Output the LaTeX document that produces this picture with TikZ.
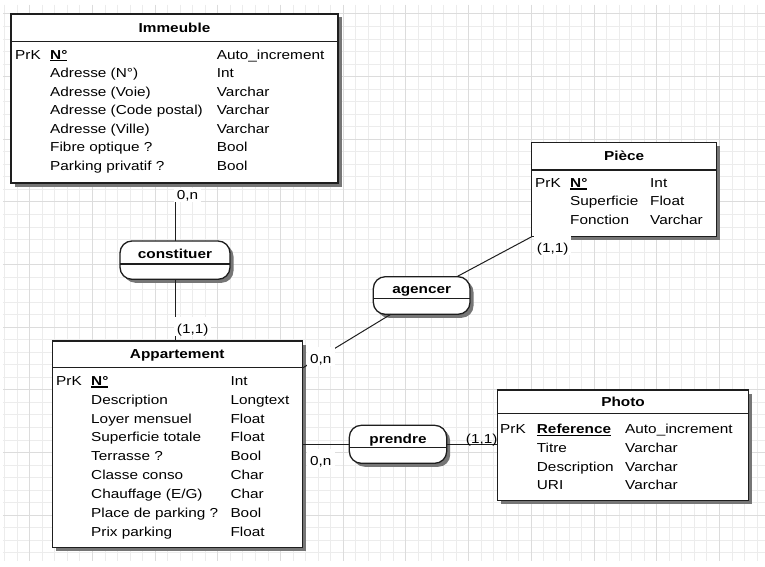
\documentclass[tikz,border=0pt]{standalone}
\usepackage{fontspec}
\setmainfont{Liberation Sans}[FakeStretch=1.18]
\usetikzlibrary{shadows}
\definecolor{gridminor}{RGB}{236,236,236}
\definecolor{gridmajor}{RGB}{220,220,220}
\definecolor{shadowc}{RGB}{118,118,118}
\definecolor{edgec}{RGB}{30,30,30}
\newcommand\keyul[1]{\setbox0\hbox{#1}\rlap{\rule[-2.3pt]{\wd0}{1.2pt}}\box0}
\newcommand\attr[6]{%
  \node[txt] (#1n) at (#2,#4) {#5};
  \node[txt] (#1t) at (#3,#4) {#6};}
\begin{document}
\begin{tikzpicture}[x=1pt,y=-1pt,
  every node/.style={font=\fontsize{13}{15}\selectfont},
  entity/.style={general shadow={fill=shadowc, shadow xshift=3.5pt, shadow yshift=-3.5pt},
    draw=edgec, line width=1.3pt, fill=white, rectangle, anchor=north west, inner sep=0pt, outer sep=0pt},
  relation/.style={entity, rounded corners=12pt},
  sepline/.style={draw=edgec, line width=1.3pt},
  txt/.style={anchor=base west, inner sep=0pt},
  ttl/.style={anchor=base, inner sep=0pt, font=\fontsize{13}{15}\selectfont\bfseries},
  card/.style={anchor=base west, fill=white, inner xsep=3pt, inner ysep=1pt, text height=16pt, text depth=1.5pt},
  link/.style={draw=edgec, line width=1pt}
]
\useasboundingbox (0,0) rectangle (765,567);
\fill[white] (0,0) rectangle (765,567);
% grid
\foreach \k in {0,...,60}{\pgfmathsetmacro\gx{4.7+12.54*\k}\draw[gridminor, line width=1pt] (\gx,5) -- (\gx,561);}
\foreach \k in {0,...,43}{\pgfmathsetmacro\gy{14+12.53*\k}\draw[gridminor, line width=1pt] (3,\gy) -- (765,\gy);}
\foreach \k in {2,7,...,57}{\pgfmathsetmacro\gx{4.7+12.54*\k}\draw[gridmajor, line width=1pt] (\gx,5) -- (\gx,561);}
\foreach \k in {0,5,...,40}{\pgfmathsetmacro\gy{14+12.53*\k}\draw[gridmajor, line width=1pt] (3,\gy) -- (765,\gy);}

% ---------- Immeuble
\node[entity, minimum width=327pt, minimum height=169pt] (imm) at (11,14) {};
\draw[sepline] (11,41.7) -- (338,41.7);
\node[ttl] (immT) at (174.5,32.1) {Immeuble};
\node[txt] (immK) at (15,59.1) {PrK};
\attr{imm1}{50}{216.7}{59.1}{\bfseries\keyul{N°}}{Auto\_increment}
\attr{imm2}{50}{216.7}{77.6}{Adresse (N°)}{Int}
\attr{imm3}{50}{216.7}{96.1}{Adresse (Voie)}{Varchar}
\attr{imm4}{50}{216.7}{114.6}{Adresse (Code postal)}{Varchar}
\attr{imm5}{50}{216.7}{133.1}{Adresse (Ville)}{Varchar}
\attr{imm6}{50}{216.7}{151.6}{Fibre optique ?}{Bool}
\attr{imm7}{50}{216.7}{170.1}{Parking privatif ?}{Bool}

% ---------- Piece
\node[entity, minimum width=185pt, minimum height=94.4pt] (pie) at (531.7,142.3) {};
\draw[sepline] (531.7,170) -- (716.7,170);
\node[ttl] (pieT) at (624.2,160.1) {Pièce};
\node[txt] (pieK) at (535,187.3) {PrK};
\attr{pie1}{570}{650}{187.3}{\bfseries\keyul{N°}}{Int}
\attr{pie2}{570}{650}{205.9}{Superficie}{Float}
\attr{pie3}{570}{650}{224.6}{Fonction}{Varchar}

% ---------- Appartement
\node[entity, minimum width=250pt, minimum height=206.3pt] (app) at (52.3,341) {};
\draw[sepline] (52.3,367.7) -- (302.3,367.7);
\node[ttl] (appT) at (177.3,358.6) {Appartement};
\node[txt] (appK) at (56,385.3) {PrK};
\attr{app1}{91}{230.3}{385.3}{\bfseries\keyul{N°}}{Int}
\attr{app2}{91}{230.3}{404.2}{Description}{Longtext}
\attr{app3}{91}{230.3}{423.05}{Loyer mensuel}{Float}
\attr{app4}{91}{230.3}{441.9}{Superficie totale}{Float}
\attr{app5}{91}{230.3}{460.8}{Terrasse ?}{Bool}
\attr{app6}{91}{230.3}{479.7}{Classe conso}{Char}
\attr{app7}{91}{230.3}{498.55}{Chauffage (E/G)}{Char}
\attr{app8}{91}{230.3}{517.4}{Place de parking ?}{Bool}
\attr{app9}{91}{230.3}{536.3}{Prix parking}{Float}

% ---------- Photo
\node[entity, minimum width=250.6pt, minimum height=110.7pt] (pho) at (497.7,390) {};
\draw[sepline] (497.7,413.3) -- (748.3,413.3);
\node[ttl] (phoT) at (623,406.3) {Photo};
\node[txt] (phoK) at (500,433.9) {PrK};
\attr{pho1}{536.7}{625}{433.9}{\bfseries\keyul{Reference}}{Auto\_increment}
\attr{pho2}{536.7}{625}{452.5}{Titre}{Varchar}
\attr{pho3}{536.7}{625}{471.0}{Description}{Varchar}
\attr{pho4}{536.7}{625}{489.6}{URI}{Varchar}

% ---------- relations
\node[relation, minimum width=110pt, minimum height=38.3pt] (con) at (120,241) {};
\draw[sepline] (120,264) -- (230,264);
\node[ttl] (conT) at (175,258.6) {constituer};

\node[relation, minimum width=96.7pt, minimum height=37.6pt] (age) at (373.3,276.7) {};
\draw[sepline] (373.3,298.3) -- (470,298.3);
\node[ttl] (ageT) at (421.7,293.9) {agencer};

\node[relation, minimum width=97.4pt, minimum height=38pt] (pre) at (349.3,425.3) {};
\draw[sepline] (349.3,447.7) -- (446.7,447.7);
\node[ttl] (preT) at (398,443.5) {prendre};

% ---------- connectors
\draw[link, shorten <=19pt] (con.north |- imm.south) -- (con.north);
\draw[link] (con.south) -- (con.south |- app.north);
\draw[link] (pie.south west) -- (age);
\draw[link] (age) -- (app);
\draw[link] (pre.west -| app.east) -- (pre.west);
\draw[link] (pre.east) -- (pre.east -| pho.west);

% ---------- cardinalities
\node[card, text height=11pt] (c1) at (173.7,199.6) {0,n};
\node[card] (c2) at (173.7,333.5) {(1,1)};
\node[card] (c3) at (533.7,252.5) {(1,1)};
\node[card] (c4) at (307,363.6) {0,n};
\node[card] (c5) at (307,465.6) {0,n};
\node[card, fill=none] (c6) at (462.7,443.9) {(1,1)};
\end{tikzpicture}
\end{document}
